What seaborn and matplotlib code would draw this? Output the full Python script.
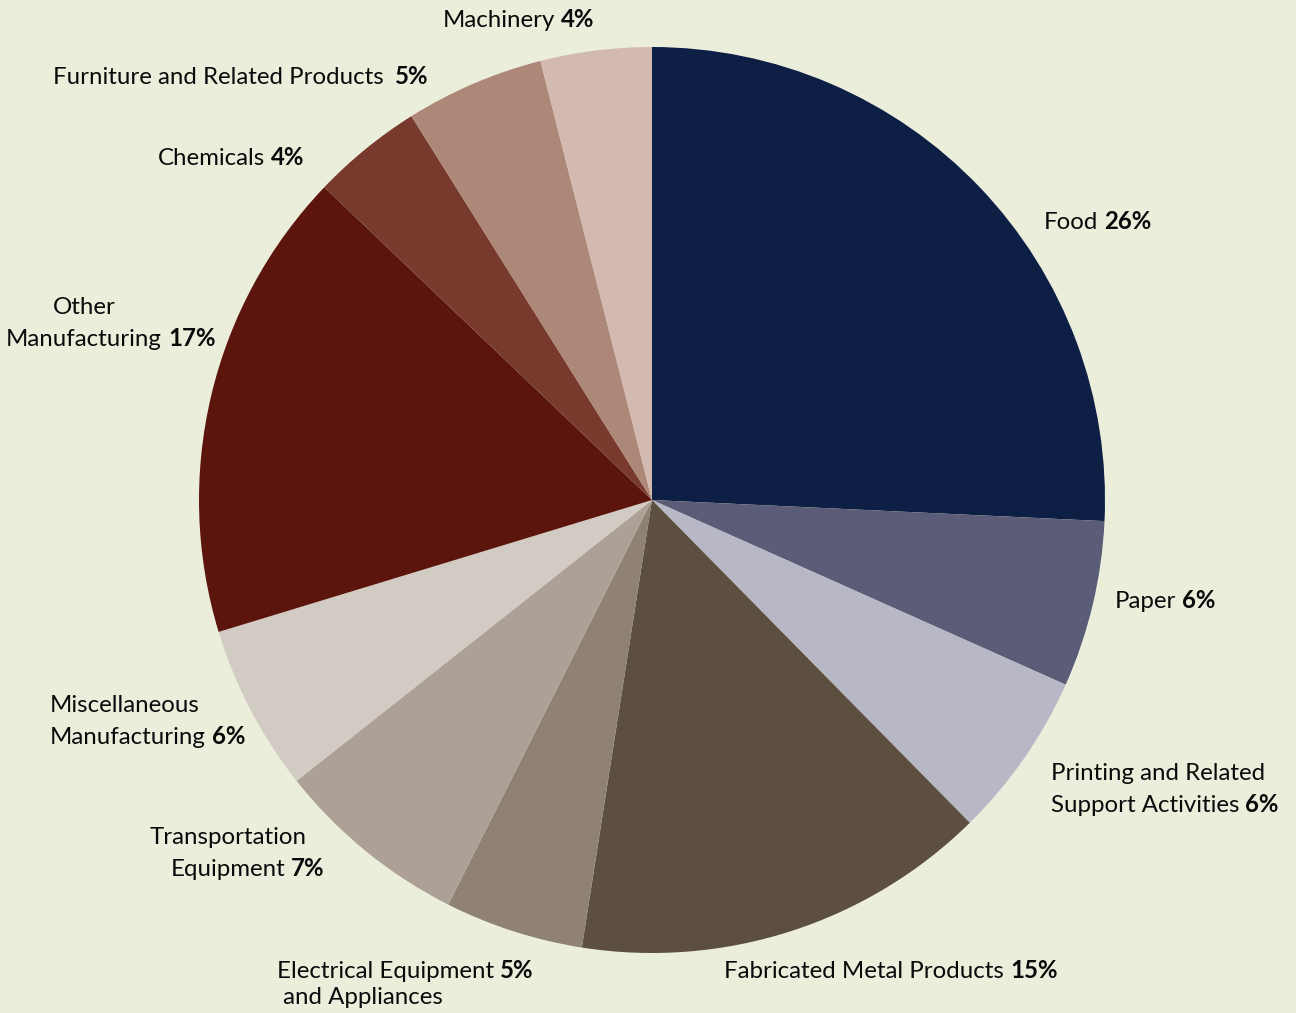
import matplotlib
matplotlib.use("Agg")
import matplotlib.pyplot as plt
import seaborn as sns

# Share of manufacturing establishments by industry (percent)
industries = [
    "Food", "Paper", "Printing and Related Support Activities",
    "Fabricated Metal Products", "Electrical Equipment and Appliances",
    "Transportation Equipment", "Miscellaneous Manufacturing",
    "Other Manufacturing", "Chemicals", "Furniture and Related Products",
    "Machinery",
]
shares = [26, 6, 6, 15, 5, 7, 6, 17, 4, 5, 4]
slice_colors = [
    "#0E1F45", "#5A5C78", "#B7B7C6", "#5D4F3F", "#8F8274", "#ADA197",
    "#D2CBC4", "#5C150C", "#773A2C", "#AD8778", "#D2BAB0",
]

BG = "#ECEEDC"
TXT = "#0A0A0A"
sns.set_theme(style="white", rc={"figure.facecolor": BG, "axes.facecolor": BG})
plt.rcParams["font.family"] = ["Lato", "DejaVu Sans"]

W, H = 1296, 1013
fig = plt.figure(figsize=(W / 100, H / 100), dpi=100)
ax = fig.add_axes([0, 0, 1, 1])

palette = sns.color_palette(slice_colors)
ax.pie(
    shares, colors=palette, startangle=90, counterclock=False,
    center=(652, H - 500), radius=453,
    wedgeprops=dict(linewidth=0), frame=True,
)
ax.set_xlim(0, W)
ax.set_ylim(0, H)
ax.set_aspect("equal")
ax.axis("off")

FS = 17.3
LINE = 32  # px between label lines


def add_pct(anchor, pct, gap=6):
    ax.annotate(f"{pct}%", xy=(1, 0), xycoords=anchor, xytext=(gap, 0),
                textcoords="offset pixels", ha="left", va="bottom",
                fontsize=FS, fontweight="bold", color=TXT)


def label(x, y, lines, pct, pct_line=-1, line_gap=LINE, gap=6):
    """Left-aligned label; (x, y) is the pixel position of the first line."""
    arts = []
    for i, txt in enumerate(lines):
        t = ax.text(x, H - (y + i * line_gap), txt, fontsize=FS, color=TXT,
                    ha="left", va="center")
        arts.append(t)
    add_pct(arts[pct_line], pct, gap)


def centered_label(cx, y, first, second, pct):
    t2 = ax.text(cx, H - (y + LINE), second, fontsize=FS, color=TXT,
                 ha="center", va="center")
    ax.text(cx, H - y, first, fontsize=FS, color=TXT,
            ha="center", va="center")
    add_pct(t2, pct)


label(443, 20, ["Machinery"], shares[10])
label(53, 77, ["Furniture and Related Products"], shares[9], gap=11)
label(158, 158, ["Chemicals"], shares[8])
label(1044, 222, ["Food"], shares[0])
centered_label(84, 307, "Other", "Manufacturing", shares[7])
label(1115, 601, ["Paper"], shares[1])
label(1051, 773, ["Printing and Related", "Support Activities"], shares[2])
label(50, 706, ["Miscellaneous", "Manufacturing"], shares[6])
centered_label(228, 838, "Transportation", "Equipment", shares[5])
label(277, 971, ["Electrical Equipment", " and Appliances"], shares[4],
      pct_line=0, line_gap=26)
label(724, 971, ["Fabricated Metal Products"], shares[3])

fig.savefig("out.png", dpi=100, facecolor=BG)
